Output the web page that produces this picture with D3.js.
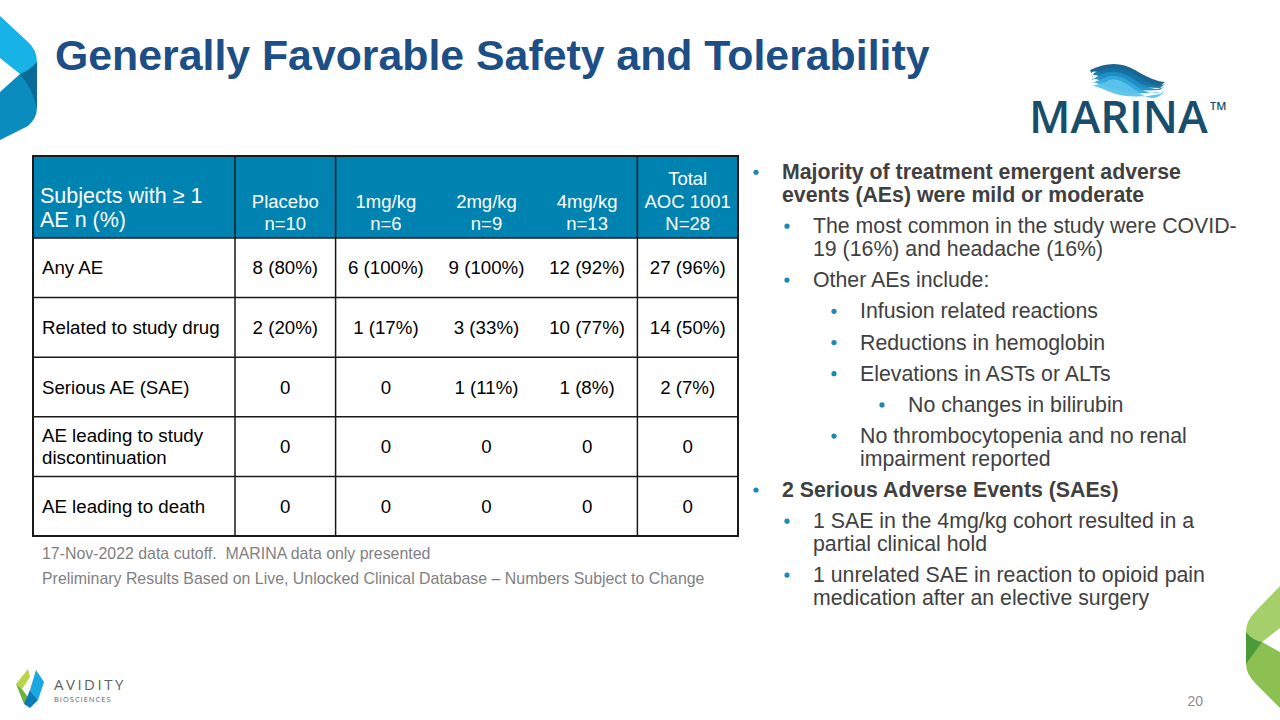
<!DOCTYPE html>
<html><head><meta charset="utf-8">
<script src="https://cdn.jsdelivr.net/npm/d3@7"></script>
<style>
html,body{margin:0;padding:0;background:#fff;}
svg{display:block;font-family:"Liberation Sans",Arial,sans-serif;}
text{white-space:pre;}
</style></head>
<body>
<svg id="c" width="1280" height="720"></svg>
<script>
// ---- data ----
const title = "Generally Favorable Safety and Tolerability";
const groupNames = ["Placebo", "1mg/kg", "2mg/kg", "4mg/kg", "Total\nAOC 1001"];
const groupN = ["n=10", "n=6", "n=9", "n=13", "N=28"];
const rowLabels = ["Any AE", "Related to study drug", "Serious AE (SAE)", "AE leading to study\ndiscontinuation", "AE leading to death"];
const placebo = ["8 (80%)", "2 (20%)", "0", "0", "0"];
const dose1 = ["6 (100%)", "1 (17%)", "0", "0", "0"];
const dose2 = ["9 (100%)", "3 (33%)", "1 (11%)", "0", "0"];
const dose4 = ["12 (92%)", "10 (77%)", "1 (8%)", "0", "0"];
const total = ["27 (96%)", "14 (50%)", "2 (7%)", "0", "0"];
const footnotes = ["17-Nov-2022 data cutoff.  MARINA data only presented",
  "Preliminary Results Based on Live, Unlocked Clinical Database \u2013 Numbers Subject to Change"];
const bullets = [
  {lvl:1, bold:true, lines:["Majority of treatment emergent adverse","events (AEs) were mild or moderate"]},
  {lvl:2, lines:["The most common in the study were COVID-","19 (16%) and headache (16%)"]},
  {lvl:2, lines:["Other AEs include:"]},
  {lvl:3, lines:["Infusion related reactions"]},
  {lvl:3, lines:["Reductions in hemoglobin"]},
  {lvl:3, lines:["Elevations in ASTs or ALTs"]},
  {lvl:4, lines:["No changes in bilirubin"]},
  {lvl:3, lines:["No thrombocytopenia and no renal","impairment reported"]},
  {lvl:1, bold:true, lines:["2 Serious Adverse Events (SAEs)"]},
  {lvl:2, lines:["1 SAE in the 4mg/kg cohort resulted in a","partial clinical hold"]},
  {lvl:2, lines:["1 unrelated SAE in reaction to opioid pain","medication after an elective surgery"]}
];
const cols = [placebo, dose1, dose2, dose4, total];

const svg = d3.select("#c");

// ---- decorations ----
// top-left chevron
const tl = svg.append("g");
tl.append("path").attr("d","M0,16 L28,42 Q37,50 37,62 L37,80 L20,74 L0,58 Z").attr("fill","#17B3E6");
tl.append("path").attr("d","M0,92 L20,74 L37,80 L37,108 Q37,118 28,126 L0,140 Z").attr("fill","#0A8DBE");
tl.append("path").attr("d","M20,74 Q30,70 37,62 L37,108 Q32,88 20,74 Z").attr("fill","#0A6A98");
// bottom-right green
const br = svg.append("g");
br.append("path").attr("d","M1280,586 L1255,612 Q1246,621 1246,632 L1246,648 L1262,642 L1280,628 Z").attr("fill","#A5CF6A");
br.append("path").attr("d","M1246,648 L1262,642 L1280,652 L1280,708 L1256,684 Q1246,674 1246,664 Z").attr("fill","#8CC152");
br.append("path").attr("d","M1246,632 Q1252,640 1262,642 L1246,664 Z").attr("fill","#4B9B3A");

// MARINA logo
const ml = svg.append("g");
const waveCols = ["#0E5C8A","#1474A8","#1D8EC4","#34A9DC","#5BC3EC"];
waveCols.forEach((c,i)=>{
  ml.append("path")
    .attr("d",`M${1090+i*4},${70+i*3} Q${1115},${58+i*4} ${1135},${70+i*5} T${1165},${82+i*2} L${1160},${86+i*2} Q${1130},${84+i*4} ${1110},${76+i*4} T${1092},${74+i*3} Z`)
    .attr("fill",c).attr("opacity",0.95);
});
ml.append("text").attr("x",1029).attr("y",133).attr("font-family","'Open Sans',Lato,sans-serif")
  .attr("font-weight",600).attr("font-size",45).attr("fill","#184E6C").text("MARINA");
ml.append("text").attr("x",1210).attr("y",110).attr("font-family","'Open Sans',sans-serif")
  .attr("font-weight",600).attr("font-size",11).attr("fill","#184E6C").text("TM");

// Avidity logo
const av = svg.append("g");
av.append("path").attr("d","M16,684 L28,669 L30,677 L22,689 Z").attr("fill","#B9D44A");
av.append("path").attr("d","M16,684 L22,689 L30,700 L24,704 Z").attr("fill","#6DB33F");
av.append("path").attr("d","M36,670 L44,682 L38,700 L30,690 Z").attr("fill","#1AA8E0");
av.append("path").attr("d","M30,690 L38,700 L30,708 L24,704 Z").attr("fill","#0A7DB8");
av.append("text").attr("x",54).attr("y",690).attr("font-family","'Open Sans',sans-serif").attr("font-size",15)
  .attr("letter-spacing",2.5).attr("fill","#5F6062").text("AVIDITY");
av.append("text").attr("x",54).attr("y",702).attr("font-family","'Open Sans',sans-serif").attr("font-size",7.5)
  .attr("letter-spacing",1).attr("fill","#5F6062").text("BIOSCIENCES");

// title
svg.append("text").attr("x",55).attr("y",70).attr("font-size",42.8).attr("font-weight","bold")
  .attr("fill","#1D4F86").text(title);

// ---- table ----
const tableLeft = 33, firstColRight = 235, tableRight = 738, tableTop = 156, headerBottom = 238, tableBottom = 536;
const x = d3.scaleBand().domain(d3.range(groupNames.length)).range([firstColRight, tableRight]);
const y = d3.scaleBand().domain(d3.range(rowLabels.length)).range([headerBottom, tableBottom]);
const tg = svg.append("g");
tg.append("rect").attr("x",tableLeft).attr("y",tableTop).attr("width",tableRight-tableLeft)
  .attr("height",headerBottom-tableTop).attr("fill","#0083B0");

// header text
const hdr = tg.append("g").attr("fill","#fff");
const h0 = hdr.append("text").attr("x",40).attr("font-size",21.5);
h0.append("tspan").attr("x",40).attr("y",203).text("Subjects with \u2265 1");
h0.append("tspan").attr("x",40).attr("y",227).text("AE n (%)");
groupNames.forEach((g,i)=>{
  const lines = g.split("\n").concat([groupN[i]]);
  const t = hdr.append("text").attr("text-anchor","middle").attr("font-size",18.5);
  lines.forEach((l,k)=>{
    t.append("tspan").attr("x",x(i)+x.bandwidth()/2).attr("y",230-(lines.length-1-k)*22.5).text(l);
  });
});

// body
rowLabels.forEach((r,j)=>{
  const cy = y(j)+y.bandwidth()/2;
  const lines = r.split("\n");
  const t = tg.append("text").attr("font-size",18.7).attr("fill","#000");
  lines.forEach((l,k)=>{
    t.append("tspan").attr("x",42).attr("y",cy+6.5+(k-(lines.length-1)/2)*22.5).text(l);
  });
  cols.forEach((col,i)=>{
    tg.append("text").attr("x",x(i)+x.bandwidth()/2).attr("y",cy+6.5).attr("text-anchor","middle")
      .attr("font-size",18.7).attr("fill","#000").text(col[j]);
  });
});

// grid lines
const lc = "#1a1a1a";
tg.append("rect").attr("x",tableLeft).attr("y",tableTop).attr("width",tableRight-tableLeft)
  .attr("height",tableBottom-tableTop).attr("fill","none").attr("stroke",lc).attr("stroke-width",2);
y.domain().forEach(j=>{
  tg.append("line").attr("x1",tableLeft).attr("x2",tableRight).attr("y1",y(j)).attr("y2",y(j))
    .attr("stroke",lc).attr("stroke-width",1.5);
});
[firstColRight, x(1), x(4)].forEach(xx=>{
  tg.append("line").attr("x1",xx).attr("x2",xx).attr("y1",tableTop).attr("y2",tableBottom)
    .attr("stroke",lc).attr("stroke-width",1.5);
});

// footnotes
footnotes.forEach((f,i)=>{
  svg.append("text").attr("x",42).attr("y",559+i*25).attr("font-size",15.9).attr("fill","#7F7F7F").text(f);
});

// ---- bullets ----
const lvlX = {1:[756,782],2:[787,813],3:[834,860],4:[882,908]};
const lineStep = 22.7, paraStep = 31.2;
let by = 179.3;
const bg = svg.append("g").attr("font-size",21.3);
bullets.forEach((b,i)=>{
  if(i>0) by += paraStep;
  const [bx,tx] = lvlX[b.lvl];
  bg.append("circle").attr("cx",bx).attr("cy",by-7).attr("r",2.6).attr("fill","#1A8AB5");
  b.lines.forEach((l,k)=>{
    if(k>0) by += lineStep;
    bg.append("text").attr("x",tx).attr("y",by).attr("fill","#404040")
      .attr("font-weight",b.bold?"bold":"normal").text(l);
  });
});

// page number
svg.append("text").attr("x",1203).attr("y",706).attr("text-anchor","end").attr("font-size",14)
  .attr("fill","#8C8C8C").text("20");
</script>
</body></html>
